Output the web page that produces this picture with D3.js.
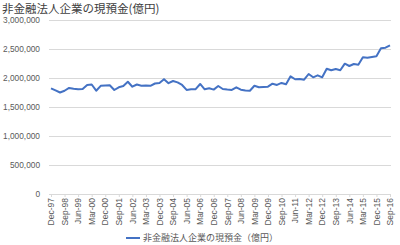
<!DOCTYPE html>
<html>
<head>
<meta charset="utf-8">
<script src="https://cdn.jsdelivr.net/npm/d3@7"></script>
<style>
  body { margin: 0; background: #fff; }
  svg { display: block; }
</style>
</head>
<body>
<div id="chart"></div>
<script>
// quarterly labels, Dec-97 .. Sep-16
const quarters = [];
const months = ['Mar', 'Jun', 'Sep', 'Dec'];
for (let y = 1997, q = 3; y < 2016 || (y === 2016 && q <= 2); q++) {
  if (q > 3) { q = 0; y++; }
  if (y === 2016 && q > 2) break;
  quarters.push(months[q] + '-' + String(y % 100).padStart(2, '0'));
}

const titleText = '非金融法人企業の現預金(億円)';
const seriesName = '非金融法人企業の現預金（億円）';

// cash & deposits, 億円
const cashDeposits = [
  1822000, 1785000, 1750000, 1780000, 1828000, 1815000, 1805000, 1810000,
  1880000, 1888000, 1781000, 1865000, 1870000, 1874000, 1793000, 1840000,
  1862000, 1935000, 1850000, 1888000, 1867000, 1870000, 1865000, 1905000,
  1915000, 1980000, 1910000, 1948000, 1925000, 1880000, 1795000, 1805000,
  1808000, 1897000, 1805000, 1822000, 1800000, 1862000, 1810000, 1800000,
  1795000, 1840000, 1798000, 1785000, 1780000, 1867000, 1840000, 1845000,
  1850000, 1902000, 1880000, 1915000, 1891000, 2029000, 1978000, 1983000,
  1970000, 2069000, 2012000, 2046000, 2012000, 2160000, 2133000, 2155000,
  2133000, 2247000, 2207000, 2241000, 2229000, 2357000, 2350000, 2362000,
  2374000, 2512000, 2522000, 2563000
];

const yTicks = [0, 500000, 1000000, 1500000, 2000000, 2500000, 3000000];

const W = 400, H = 245;
const margin = { top: 20, right: 9, bottom: 51, left: 49 };
const gray = '#595959';
const gridColor = '#d9d9d9';
const lineColor = '#4472c4';
const jp = '"Noto Sans CJK JP", "Noto Sans", sans-serif';
const num = '"Liberation Sans", Arial, sans-serif';

const svg = d3.select('#chart').append('svg')
  .attr('width', W)
  .attr('height', H);

const x = d3.scalePoint()
  .domain(quarters)
  .range([margin.left + 2, W - margin.right - 1]);

const y = d3.scaleLinear()
  .domain([0, 3000000])
  .range([H - margin.bottom, margin.top]);

// title
svg.append('text')
  .attr('x', 2)
  .attr('y', 13)
  .attr('font-family', jp)
  .attr('font-size', 11.5)
  .attr('fill', '#404040')
  .text(titleText);

// gridlines + y labels
const yAxis = svg.append('g')
  .attr('transform', `translate(${margin.left},0)`)
  .call(d3.axisLeft(y)
    .tickValues(yTicks)
    .tickSize(-(W - margin.left - margin.right))
    .tickPadding(9)
    .tickFormat(d3.format(',')));
yAxis.select('.domain').remove();
yAxis.selectAll('.tick line').attr('stroke', gridColor).attr('stroke-width', 1);
yAxis.selectAll('.tick text')
  .attr('fill', gray)
  .attr('font-family', num)
  .attr('font-size', 8.3);

// x axis
const xAxis = svg.append('g')
  .attr('transform', `translate(0,${y(0)})`)
  .call(d3.axisBottom(x)
    .tickValues(quarters.filter((d, i) => i % 3 === 0))
    .tickSize(3)
    .tickSizeOuter(0));
xAxis.select('.domain')
  .attr('d', `M${margin.left},0.5H${W - margin.right}`)
  .attr('stroke', gridColor);
xAxis.selectAll('.tick line').attr('stroke', gridColor);
xAxis.selectAll('.tick text')
  .attr('fill', gray)
  .attr('font-family', num)
  .attr('font-size', 8.5)
  .attr('text-anchor', 'end')
  .attr('dy', '0.32em')
  .attr('transform', 'translate(0,-5) rotate(-90)')
  .attr('x', -9)
  .attr('y', 0);

// series
const line = d3.line()
  .x((d, i) => x(quarters[i]))
  .y(d => y(d));

svg.append('path')
  .datum(cashDeposits)
  .attr('fill', 'none')
  .attr('stroke', lineColor)
  .attr('stroke-width', 2)
  .attr('stroke-linejoin', 'round')
  .attr('d', line);

// legend
const legend = svg.append('g').attr('transform', 'translate(126,238)');
legend.append('line')
  .attr('x1', 0).attr('x2', 14)
  .attr('stroke', lineColor)
  .attr('stroke-width', 2);
legend.append('text')
  .attr('x', 17)
  .attr('dy', '0.35em')
  .attr('font-family', jp)
  .attr('font-size', 9)
  .attr('fill', gray)
  .text(seriesName);
</script>
</body>
</html>
